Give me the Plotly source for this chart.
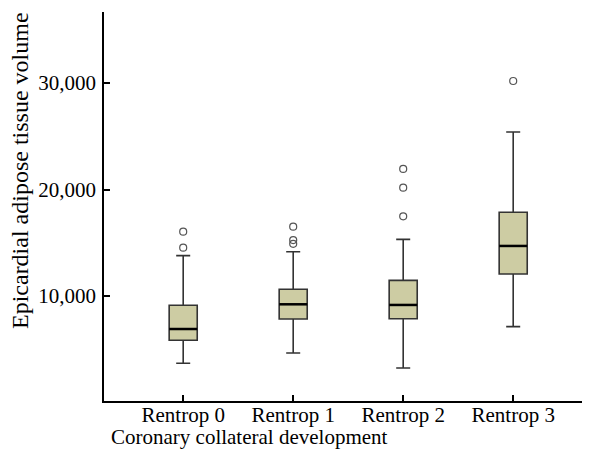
import plotly.graph_objects as go

categories = ["Rentrop 0", "Rentrop 1", "Rentrop 2", "Rentrop 3"]
lower_whisker = [3680, 4650, 3240, 7120]
q1_values = [5840, 7840, 7870, 12070]
medians = [6900, 9220, 9160, 14700]
q3_values = [9130, 10630, 11470, 17860]
upper_whisker = [13790, 14160, 15320, 25400]
outliers = {
    "Rentrop 0": [16040, 14540],
    "Rentrop 1": [16510, 15250, 14900],
    "Rentrop 2": [21930, 20170, 17480],
    "Rentrop 3": [30190],
}
y_ticks = [10000, 20000, 30000]

BOX_W = 0.255
FONT = "Liberation Serif"

fig = go.Figure()
fig.add_trace(go.Box(
    x=categories,
    q1=q1_values, median=medians, q3=q3_values,
    lowerfence=lower_whisker, upperfence=upper_whisker,
    width=BOX_W, whiskerwidth=0.5,
    fillcolor="#cdcca3",
    line=dict(color="#333333", width=1.6),
    boxpoints=False, showlegend=False, hoverinfo="skip",
))

ox, oy = [], []
for c in categories:
    for v in outliers[c]:
        ox.append(c)
        oy.append(v)
fig.add_trace(go.Scatter(
    x=ox, y=oy, mode="markers",
    marker=dict(symbol="circle-open", size=7, color="#555555", line=dict(width=1.2)),
    showlegend=False, hoverinfo="skip",
))

for i, m in enumerate(medians):
    fig.add_shape(type="line", xref="x", yref="y",
                  x0=i - BOX_W / 2, x1=i + BOX_W / 2, y0=m, y1=m,
                  line=dict(color="black", width=2.5))

W, H = 582, 446
L, R, T, B = 96, 2, 4, 53
PW, PH = W - L - R, H - T - B

fig.update_layout(
    width=W, height=H,
    margin=dict(l=L, r=R, t=T, b=B, autoexpand=False),
    paper_bgcolor="white", plot_bgcolor="white",
    font=dict(family=FONT, color="black", size=21),
    showlegend=False,
)
fig.update_xaxes(
    type="category", range=[-0.72, 3.68],
    showline=True, linecolor="black", linewidth=1.5,
    ticks="inside", ticklen=6, tickwidth=1.5, tickcolor="black",
    showgrid=False, zeroline=False, automargin=False,
    tickfont=dict(family=FONT, size=21),
    ticklabelstandoff=-6,
)
fig.update_yaxes(
    range=[140, 36670],
    tickvals=y_ticks, tickformat=",",
    showline=True, linecolor="black", linewidth=1.5,
    ticks="inside", ticklen=6, tickwidth=1.5, tickcolor="black",
    showgrid=False, zeroline=False, automargin=False,
    tickfont=dict(family=FONT, size=21),
    ticklabelstandoff=2,
)

fig.add_annotation(
    text="Epicardial adipose tissue volume", textangle=-90,
    xref="paper", yref="paper", x=(12 - L) / PW, y=(H - B - 163) / PH,
    xanchor="center", yanchor="middle", showarrow=False,
    font=dict(family=FONT, size=24, color="black"),
)
fig.add_annotation(
    text="Coronary collateral development",
    xref="paper", yref="paper", x=(241 - L) / PW, y=-36 / PH,
    xanchor="center", yanchor="middle", showarrow=False,
    font=dict(family=FONT, size=21, color="black"),
)

fig.write_html("out.html")
